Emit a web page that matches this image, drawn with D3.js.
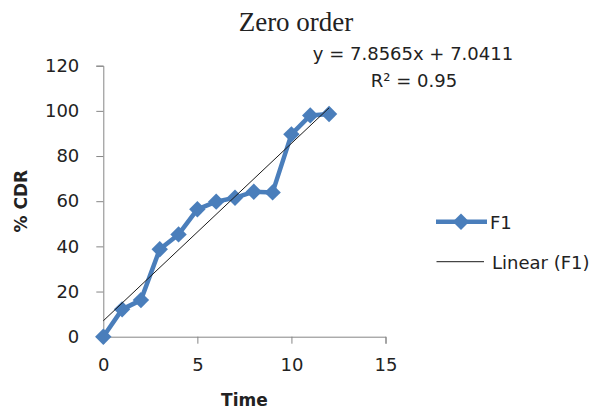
<!DOCTYPE html>
<html>
<head>
<meta charset="utf-8">
<script src="https://cdn.jsdelivr.net/npm/d3@7"></script>
<style>
  html, body { margin: 0; padding: 0; background: #fff; }
  svg { display: block; }
</style>
</head>
<body>
<svg id="chart" width="596" height="409"></svg>
<script>
// Cumulative drug release over time, zero-order fit
const time = [0, 1, 2, 3, 4, 5, 6, 7, 8, 9, 10, 11, 12];
const cdr = [0, 12.1, 16.2, 38.7, 45.3, 56.4, 59.8, 61.5, 64.2, 63.9, 89.6, 98.0, 98.6];
const fitSlope = 7.8565;
const fitIntercept = 7.0411;
const rSquared = 0.95;
const xTicks = [0, 5, 10, 15];
const yTicks = [0, 20, 40, 60, 80, 100, 120];

const svg = d3.select("#chart");
const blue = "#4a7ebb";
const axisGrey = "#868686";
const sans = "'DejaVu Sans', sans-serif";

const x = d3.scaleLinear().domain([0, 15]).range([103.3, 385.5]);
const y = d3.scaleLinear().domain([0, 120]).range([336.7, 65.7]);

// Axes
const xAxis = svg.append("g")
  .attr("transform", `translate(0,${y(0)})`)
  .call(d3.axisBottom(x).tickValues(xTicks).tickSize(7).tickPadding(10).tickFormat(d3.format("d")));
const yAxis = svg.append("g")
  .attr("transform", `translate(${x(0)},0)`)
  .call(d3.axisLeft(y).tickValues(yTicks).tickSize(7).tickPadding(17).tickFormat(d3.format("d")));

[xAxis, yAxis].forEach(g => {
  g.select(".domain").attr("stroke", axisGrey).attr("stroke-width", 1);
  g.selectAll(".tick line").attr("stroke", axisGrey).attr("stroke-width", 1);
  g.selectAll(".tick text")
    .attr("fill", "#222")
    .style("font-family", sans)
    .style("font-size", "18px");
});
xAxis.selectAll(".tick text").attr("dy", "0.95em");

// Axis titles
svg.append("text")
  .attr("x", (x(0) + x(15)) / 2)
  .attr("y", 406)
  .attr("text-anchor", "middle")
  .style("font-family", sans)
  .style("font-weight", "bold")
  .style("font-size", "17px")
  .attr("fill", "#222")
  .text("Time");

svg.append("text")
  .attr("transform", `translate(27,${(y(0) + y(120)) / 2}) rotate(-90)`)
  .attr("text-anchor", "middle")
  .style("font-family", sans)
  .style("font-weight", "bold")
  .style("font-size", "17px")
  .attr("fill", "#222")
  .text("% CDR");

// Chart title
svg.append("text")
  .attr("x", 296)
  .attr("y", 30.5)
  .attr("text-anchor", "middle")
  .style("font-family", "'Liberation Serif', serif")
  .style("font-size", "27px")
  .attr("fill", "#222")
  .text("Zero order");

// Series line
const line = d3.line().x((d, i) => x(time[i])).y(d => y(d));
svg.append("path")
  .datum(cdr)
  .attr("fill", "none")
  .attr("stroke", blue)
  .attr("stroke-width", 4.5)
  .attr("stroke-linejoin", "round")
  .attr("d", line);

// Diamond markers
const diamond = d3.symbol().type(d3.symbolSquare).size(135);
svg.append("g").selectAll("path")
  .data(cdr)
  .join("path")
  .attr("d", diamond)
  .attr("transform", (d, i) => `translate(${x(time[i])},${y(d)}) rotate(45)`)
  .attr("fill", blue);

// Linear trendline over the data range
const tMin = d3.min(time), tMax = d3.max(time);
svg.append("line")
  .attr("x1", x(tMin)).attr("y1", y(fitSlope * tMin + fitIntercept))
  .attr("x2", x(tMax)).attr("y2", y(fitSlope * tMax + fitIntercept))
  .attr("stroke", "#1a1a1a")
  .attr("stroke-width", 1);

// Trendline equation and R²
const eq = svg.append("g")
  .style("font-family", sans)
  .style("font-size", "18px")
  .attr("fill", "#222")
  .attr("text-anchor", "middle");
eq.append("text").attr("x", 413).attr("y", 60)
  .text(`y = ${fitSlope}x + ${fitIntercept}`);
eq.append("text").attr("x", 414).attr("y", 86.5)
  .text(`R² = ${rSquared}`);

// Legend
const legend = svg.append("g")
  .style("font-family", sans)
  .style("font-size", "18px")
  .attr("fill", "#222");
legend.append("line")
  .attr("x1", 436).attr("x2", 487).attr("y1", 221.7).attr("y2", 221.7)
  .attr("stroke", blue).attr("stroke-width", 4.5);
legend.append("path")
  .attr("d", diamond)
  .attr("transform", "translate(461,221.7) rotate(45)")
  .attr("fill", blue);
legend.append("text").attr("x", 490).attr("y", 228.5).text("F1");
legend.append("line")
  .attr("x1", 436.5).attr("x2", 484).attr("y1", 261.7).attr("y2", 261.7)
  .attr("stroke", "#1a1a1a").attr("stroke-width", 1);
legend.append("text").attr("x", 492).attr("y", 268.5).text("Linear (F1)");
</script>
</body>
</html>
